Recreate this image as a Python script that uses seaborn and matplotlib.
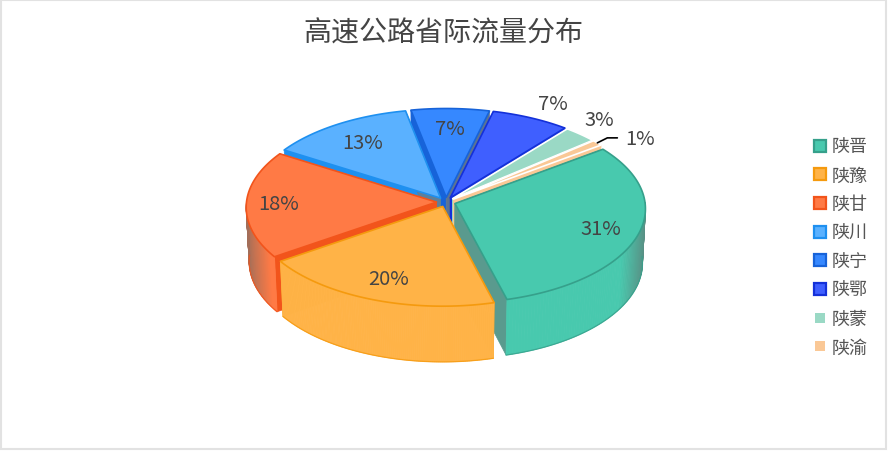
import numpy as np
import seaborn as sns
import matplotlib.pyplot as plt
from matplotlib.colors import to_rgb
from matplotlib.lines import Line2D

names = ['陕晋', '陕豫', '陕甘', '陕川', '陕宁', '陕鄂', '陕蒙', '陕渝']
values = [31, 19.6, 18.4, 13, 7, 7, 3, 1]
fills = ['#48C9AE', '#FFB347', '#FF7A45', '#5AB1FF', '#3688FF', '#3F5FFF', '#9AD9C5', '#FAC896']
edges = ['#36A08B', '#F59A0E', '#F2541B', '#1E90F0', '#1763D9', '#1431D9', '#FFFFFF', '#FFFFFF']
end_faces = ['#5A9A8E', '#F59A0E', '#F2541B', '#5F7F99', '#5C7391', '#1431D9', '#9AD9C5', '#FAC896']
start_faces = ['#36A08B', '#F59A0E', '#F2541B', '#1E90F0', '#1763D9', '#1431D9', '#9AD9C5', '#FAC896']
label_radius = [0.85, 0.83, 0.88, 0.80, 0.82, 1.2, 1.18, 1.18]
label_dx = [0, 0, 0, 0, 0, 11, 3, 25]
label_dy = [0, 0, 0, 0, 0, -3, -7, 3]

TITLE = '高速公路省际流量分布'
START = 36.5
CX, CY, RX, RY, H = 446, 203, 190, 94, 55
PERSP, PERSP_Z, EXPLODE = 0.053, 0.015, 0.05

sns.set_theme(style='white')
plt.rcParams['font.family'] = ['Noto Sans CJK SC', 'DejaVu Sans']


def project(x, y, z=0.0):
    s = 1 / (1 + PERSP * y + PERSP_Z * z)
    return CX + RX * x * s, CY - RY * y * s + H * z * s


def side_color(fill, theta):
    # sides go grey where they turn away from the viewer
    t = np.clip((abs(np.cos(theta)) - 0.85) / 0.15, 0, 1)
    return tuple((1 - 0.6 * t) * c + 0.6 * t * g for c, g in zip(to_rgb(fill), to_rgb('#666666')))


fig = plt.figure(figsize=(8.88, 4.56), dpi=100)
ax = fig.add_axes([0, 0, 1, 1])
ax.set_xlim(0, 888)
ax.set_ylim(456, 0)
ax.axis('off')

total = sum(values)
angles = START - 360 * np.cumsum([0] + values) / total
mids = np.radians((angles[:-1] + angles[1:]) / 2)
starts = np.radians(angles[:-1])
ends = np.radians(angles[1:])

# back to front
order = [4, 5, 6, 7, 0, 3, 2, 1]
for z, i in enumerate(order):
    ox, oy = EXPLODE * np.cos(mids[i]), EXPLODE * np.sin(mids[i])
    th = np.linspace(starts[i], ends[i], 120)
    px, py = ox + np.cos(th), oy + np.sin(th)

    # radial faces
    for a, col in ((starts[i], start_faces[i]), (ends[i], end_faces[i])):
        qx = [ox, ox + np.cos(a), ox + np.cos(a), ox]
        qy = [oy, oy + np.sin(a), oy + np.sin(a), oy]
        qz = [0, 0, 1, 1]
        fx, fy = project(np.array(qx), np.array(qy), np.array(qz))
        ax.fill(fx, fy, color=col, lw=0.5, zorder=10 + z)

    # outer wall, front half only
    for j in range(len(th) - 1):
        if np.sin(th[j]) > 0.02:
            continue
        wx = np.array([px[j], px[j + 1], px[j + 1], px[j]])
        wy = np.array([py[j], py[j + 1], py[j + 1], py[j]])
        fx, fy = project(wx, wy, np.array([0, 0, 1, 1]))
        ax.fill(fx, fy, color=side_color(fills[i], th[j]), lw=0.6, zorder=10 + z)
    front = np.sin(th) <= 0.02
    if front.any():
        bx, by = project(px[front], py[front], 1.0)
        ax.plot(bx, by, color=edges[i], lw=0.9, alpha=0.8, zorder=10 + z)

    # top face
    tx, ty = project(np.r_[ox, px], np.r_[oy, py])
    ax.fill(tx, ty, facecolor=fills[i], edgecolor=edges[i], lw=1.2, joinstyle='round', zorder=10 + z)

# labels
for i, v in enumerate(values):
    r = label_radius[i]
    lx, ly = project(r * np.cos(mids[i]), r * np.sin(mids[i]))
    ax.text(lx + label_dx[i], ly + label_dy[i], f'{v / total:.0%}', ha='center', va='center',
            fontsize=14.5, color='#444444', zorder=40)

# leader line for the smallest slice
ox, oy = (1 + EXPLODE) * np.cos(mids[7]), (1 + EXPLODE) * np.sin(mids[7])
ax0, ay0 = project(ox, oy)
ax.plot([ax0, ax0 + 10, ax0 + 20], [ay0, ay0 - 5, ay0 - 5], color='black', lw=1.2, zorder=40)

ax.text(443, 34, TITLE, ha='center', va='center', fontsize=20.2, color='#444444')

handles = []
for i, n in enumerate(names):
    big = i < 6
    handles.append(Line2D([], [], ls='', marker='s', markersize=8.6 if big else 6.5,
                          markerfacecolor=fills[i], markeredgecolor=edges[i] if big else fills[i],
                          markeredgewidth=1.6 if big else 0, label=n))
ax.legend(handles=handles, loc='upper left', bbox_to_anchor=(0.9127, 0.695), frameon=False,
          fontsize=13, labelspacing=0.59, handlelength=1, handletextpad=0.2,
          labelcolor='#555555', borderpad=0, borderaxespad=0)

fig.patches.append(plt.Rectangle((0.5, 0.5), 885, 450, transform=ax.transData, fill=False, ec='#E2E2E2', lw=1.5))
fig.savefig('out.png', dpi=100)
